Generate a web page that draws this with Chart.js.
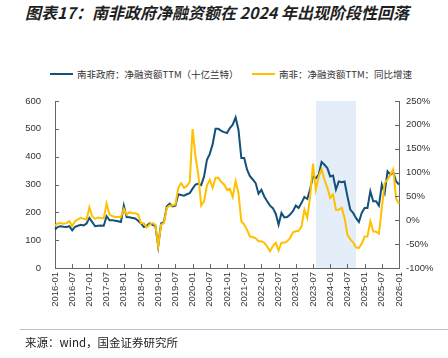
<!DOCTYPE html>
<html>
<head>
<meta charset="utf-8">
<script src="https://cdn.jsdelivr.net/npm/chart.js@4.4.1/dist/chart.umd.min.js"></script>
<style>
body { margin: 0; width: 448px; height: 358px; position: relative; background: #fff; overflow: hidden; font-family: "Noto Sans CJK SC", sans-serif; }
#title { position: absolute; left: 25px; top: 0px; font-size: 16px; font-weight: bold; font-style: italic; color: #1f1f1f; white-space: nowrap; }
.leg { position: absolute; top: 67px; font-size: 9.5px; color: #333; white-space: nowrap; }
.leg i { display: inline-block; width: 23px; height: 2px; vertical-align: middle; margin-right: 4px; position: relative; top: -1px; }
#rule { position: absolute; left: 20px; right: 0; top: 329px; height: 1px; background: #b4c3d3; }
#src { position: absolute; left: 25px; top: 334px; font-size: 11.5px; color: #222; white-space: nowrap; }
#wrap { position: absolute; left: 0; top: 0; }
</style>
</head>
<body>
<div id="title">图表17：南非政府净融资额在 2024 年出现阶段性回落</div>
<div class="leg" style="left:50px"><i style="background:#14517a"></i>南非政府：净融资额TTM（十亿兰特）</div>
<div class="leg" style="left:252px"><i style="background:#ffc000"></i>南非：净融资额TTM：同比增速</div>
<div id="wrap"><canvas id="chart" width="448" height="358"></canvas></div>
<div id="rule"></div>
<div id="src">来源：wind，国金证券研究所</div>
<script>
// months 2016-01 .. 2026-01
const months = [];
for (let y = 2016; y <= 2026; y++) {
    for (let m = 1; m <= 12; m++) {
        if (y === 2026 && m > 1) break;
        months.push(y + '-' + String(m).padStart(2, '0'));
    }
}

// 南非政府：净融资额TTM（十亿兰特）
const netFinancing = [
    138, 148, 150, 148, 147, 150, 135, 148, 152, 155, 153, 160,
    180, 165, 150, 152, 153, 152, 186, 172, 172, 170, 168, 165,
    224, 183, 182, 180, 178, 170, 160, 147, 152, 160, 155, 152,
    78, 160, 165, 222, 231, 221, 224, 265, 262, 260, 265, 269,
    285, 300, 303, 298, 329, 389, 410, 445, 500, 500, 493, 488,
    485, 503, 515, 541, 497, 395, 395, 353, 330, 318, 305, 267,
    281, 257, 240, 224, 215, 195, 156, 198, 182, 183, 192, 204,
    224, 216, 234, 255, 248, 284, 329, 323, 335, 381, 371, 359,
    329, 332, 282, 311, 308, 311, 258, 210, 198, 180, 165, 198,
    216, 216, 276, 240, 240, 224, 300, 270, 347, 335, 344, 311,
    300
];

// 南非：净融资额TTM：同比增速（%）
const yoyGrowth = [
    -11, -6, -6, -7, -6, -2, -12, -2, 2, 5, 3, 1,
    27, 8, 3, 6, 5, 4, 35, 12, 9, 7, 7, 7,
    24, 12, 17, 15, 15, 12, -6, -6, -15, -9, -6, -9,
    -54, -9, -6, 26, 31, 31, 33, 68, 78, 68, 72, 80,
    191, 134, 95, 31, 40, 73, 85, 68, 89, 89, 80, 75,
    64, 66, 49, 82, 57, -2, -9, -20, -34, -35, -38, -44,
    -44, -47, -55, -65, -54, -47, -63, -47, -47, -44, -37, -25,
    -23, -22, -13, 22, 5, 50, 119, 64, 92, 107, 85, 68,
    47, 54, 22, 22, 26, 5, -30, -40, -46, -57, -58, -49,
    -34, -34, -2, -23, -24, -28, 25, 78, 85, 96, 107, 45,
    35
];

const tickLabels = ['2016-01', '2016-07', '2017-01', '2017-07', '2018-01', '2018-07', '2019-01', '2019-07',
    '2020-01', '2020-07', '2021-01', '2021-07', '2022-01', '2022-07', '2023-01', '2023-07',
    '2024-01', '2024-07', '2025-01', '2025-07', '2026-01'];

// shaded period
const shadeFrom = '2023-08';
const shadeTo = '2024-10';

const navy = '#14517a';
const gold = '#ffc000';
const axisColor = '#666';
const tickFont = { family: 'Liberation Sans, Arial, sans-serif', size: 9.5 };

// light blue band behind the lines
const shadePlugin = {
    id: 'shade',
    beforeDatasetsDraw(c) {
        const x = c.scales.x, a = c.chartArea, ctx = c.ctx;
        const x0 = x.getPixelForValue(months.indexOf(shadeFrom));
        const x1 = x.getPixelForValue(months.indexOf(shadeTo));
        ctx.save();
        ctx.fillStyle = '#e3eef8';
        ctx.fillRect(x0, a.top, x1 - x0, a.bottom - a.top);
        ctx.restore();
    }
};

// tick marks pointing into the plot
const innerTicks = {
    id: 'innerTicks',
    afterDraw(c) {
        const ctx = c.ctx, a = c.chartArea, len = 4;
        ctx.save();
        ctx.strokeStyle = axisColor;
        ctx.lineWidth = 1;
        ctx.beginPath();
        c.scales.y.ticks.forEach(t => {
            const py = Math.round(c.scales.y.getPixelForValue(t.value)) + 0.5;
            ctx.moveTo(a.left, py); ctx.lineTo(a.left + len, py);
        });
        c.scales.y1.ticks.forEach(t => {
            const py = Math.round(c.scales.y1.getPixelForValue(t.value)) + 0.5;
            ctx.moveTo(a.right, py); ctx.lineTo(a.right - len, py);
        });
        c.scales.x.ticks.forEach(t => {
            const px = Math.round(c.scales.x.getPixelForValue(t.value)) + 0.5;
            ctx.moveTo(px, a.bottom); ctx.lineTo(px, a.bottom - len);
        });
        ctx.stroke();
        ctx.restore();
    }
};

new Chart(document.querySelector('#chart'), {
    type: 'line',
    data: {
        labels: months,
        datasets: [
            {
                label: '南非政府：净融资额TTM（十亿兰特）',
                data: netFinancing,
                borderColor: navy,
                borderWidth: 2,
                pointRadius: 0,
                yAxisID: 'y',
                order: 1
            },
            {
                label: '南非：净融资额TTM：同比增速',
                data: yoyGrowth,
                borderColor: gold,
                borderWidth: 2,
                pointRadius: 0,
                yAxisID: 'y1',
                order: 0
            }
        ]
    },
    options: {
        responsive: false,
        animation: false,
        layout: { padding: { top: 101, left: 0, right: 0, bottom: 0 } },
        plugins: { legend: { display: false }, tooltip: { enabled: false } },
        scales: {
            x: {
                grid: { drawOnChartArea: false, drawTicks: false },
                border: { color: axisColor },
                afterBuildTicks: s => { s.ticks = s.ticks.filter(t => tickLabels.includes(months[t.value])); },
                ticks: {
                    autoSkip: false, maxRotation: 90, minRotation: 90, padding: 4,
                    color: '#333', font: tickFont,
                    callback: v => months[v]
                },
                afterFit: s => { s.height = 90; }
            },
            y: {
                position: 'left', min: 0, max: 600,
                grid: { drawOnChartArea: false, drawTicks: false },
                border: { color: axisColor },
                ticks: { stepSize: 100, padding: 14, color: '#333', font: tickFont },
                afterFit: s => { s.width = 55; }
            },
            y1: {
                position: 'right', min: -100, max: 250,
                grid: { drawOnChartArea: false, drawTicks: false },
                border: { color: axisColor },
                ticks: { stepSize: 50, padding: 7, color: '#333', font: tickFont, callback: v => v + '%' },
                afterFit: s => { s.width = 49; }
            }
        }
    },
    plugins: [shadePlugin, innerTicks]
});
</script>
</body>
</html>
